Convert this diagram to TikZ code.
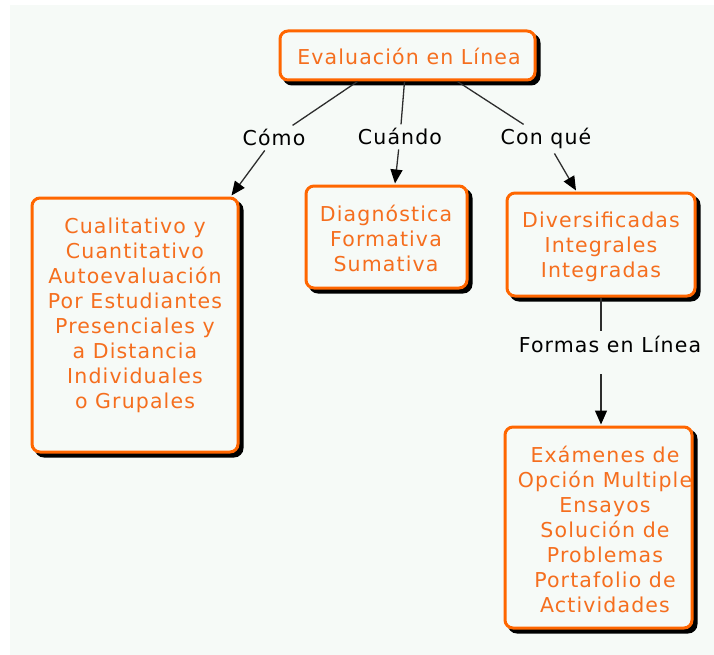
\documentclass[tikz,border=0pt]{standalone}
\usepackage{fontspec}
\setmainfont{DejaVu Sans}[LetterSpace=5.5]
\usetikzlibrary{arrows.meta,shadows,calc}
\definecolor{bgc}{RGB}{246,250,247}
\definecolor{ordc}{RGB}{255,102,0}
\definecolor{otxt}{RGB}{245,110,30}
\definecolor{linec}{RGB}{45,45,45}
\begin{document}
\begin{tikzpicture}[x=1pt,y=-1pt,
  box/.style={draw=ordc, line width=3pt, rounded corners=8pt, fill=bgc,
    copy shadow={shadow xshift=4pt, shadow yshift=-4pt, fill=black, draw=black}},
  boxtext/.style={text=otxt, align=center, inner sep=0pt, font=\fontsize{20.5}{25}\selectfont},
  lab/.style={text=black, inner sep=4pt, font=\fontsize{20.5}{25}\selectfont},
  conn/.style={draw=linec, line width=1.3pt},
  arr/.style={conn, -{Triangle[length=14pt,width=12pt,color=black]}}]
\useasboundingbox (0,0) rectangle (714,655);
\fill[white] (0,0) rectangle (714,655);
\fill[bgc] (10,5) rectangle (714,655);

% boxes
\node[box, minimum width=255pt, minimum height=49pt] (tbox) at (407.5,55.5) {};
\node[boxtext, anchor=base] (ttext) at (409,65) {Evaluación en Línea};

\node[box, minimum width=206pt, minimum height=254pt] (lbox) at (135,325) {};
\node[boxtext] (ltext) at (135,315.5) {Cualitativo y\\Cuantitativo\\Autoevaluación\\Por Estudiantes\\Presenciales y\\a Distancia\\Individuales\\o Grupales};

\node[box, minimum width=161pt, minimum height=102pt] (mbox) at (386.5,237) {};
\node[boxtext] (mtext) at (386,238.5) {Diagnóstica\\Formativa\\Sumativa};

\node[box, minimum width=188pt, minimum height=103pt] (rbox) at (601,244.5) {};
\node[boxtext] (rtext) at (601,247) {Diversificadas\\Integrales\\Integradas};

\node[box, minimum width=187pt, minimum height=201pt] (bbox) at (598.5,527.5) {};
\node[boxtext] (btext) at (605,529.5) {Exámenes de\\Opción Multiple\\Ensayos\\Solución de\\Problemas\\Portafolio de\\Actividades};

% labels
\node[lab, anchor=base] (como) at (274,146) {Cómo};
\node[lab, anchor=base] (cuando) at (400,145) {Cuándo};
\node[lab, anchor=base] (conque) at (546,145) {Con qué};
\node[lab, anchor=base] (formas) at (610,352) {Formas en Línea};

% connectors
\draw[conn] ($(tbox.south)+(-50,0)$) -- (como);
\draw[arr] (como) -- ($(lbox.north east)+(-8,-1)$);
\draw[conn] ($(tbox.south)+(-3,0)$) -- (cuando);
\draw[arr] (cuando) -- ($(mbox.north)+(8.5,-1)$);
\draw[conn] ($(tbox.south)+(50,0)$) -- (conque);
\draw[arr] (conque) -- ($(rbox.north)+(-25,-1)$);
\draw[conn] (rbox.south) -- (rbox.south |- formas.north);
\draw[arr, shorten <=18pt] (rbox.south |- formas.south) -- ($(rbox.south |- bbox.north)+(0,-1)$);
\end{tikzpicture}
\end{document}
